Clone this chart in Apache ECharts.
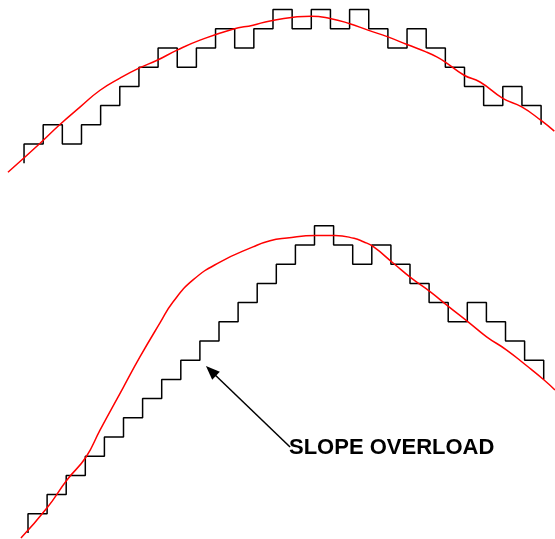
<!DOCTYPE html>
<html>
<head>
<meta charset="utf-8">
<script src="https://cdn.jsdelivr.net/npm/echarts@6/dist/echarts.min.js"></script>
<style>html,body{margin:0;padding:0;background:#fff;}#c{width:555px;height:539px;}</style>
</head>
<body>
<div id="c"></div>
<script>
// Top panel: staircase levels (start level, 27 step levels, end level)
const topSteps = [0,1,2,1,2,3,4,5,6,5,6,7,6,7,8,7,8,7,8,7,6,7,6,5,4,3,4,3,2];
// Top panel: analog signal (time in clock units, amplitude in step units)
const topSignalT = [-0.84,0.84,1.83,2.92,3.97,5.01,6.0,6.95,7.99,9.19,10.9,11.96,12.85,14.99,15.98,16.97,17.96,19.0,20.0,20.99,21.55,21.98,22.98,23.81,25.0,25.99,26.98,27.69];
const topSignalV = [-0.47,1.04,1.98,2.92,3.80,4.43,4.95,5.36,5.89,6.41,6.98,7.19,7.41,7.66,7.54,7.28,6.93,6.58,6.18,5.80,5.54,5.28,4.58,4.23,3.38,2.93,2.24,1.67];

// Bottom panel: staircase levels
const bottomSteps = [0,1,2,3,4,5,6,7,8,9,10,11,12,13,14,15,16,15,14,15,14,13,12,11,12,11,10,9,8];
// Bottom panel: analog signal
const bottomSignalT = [-0.37,0.99,2.04,3.04,3.77,4.97,5.86,6.91,7.59,8.64,10.05,11.78,12.67,13.56,15.06,16.07,17.07,17.56,18.08,19.13,20.09,21.05,22.04,23.04,24.01,25.06,26.06,27.02,27.59];
const bottomSignalV = [-0.26,1.30,2.76,3.96,5.36,7.55,9.17,10.94,12.03,13.18,14.11,14.9,15.22,15.36,15.49,15.49,15.35,15.17,14.91,14.05,13.26,12.57,11.78,11.0,10.22,9.53,8.75,7.97,7.45];

// Annotation
const annotationText = 'SLOPE OVERLOAD';
const arrowFrom = [13.72, 4.48];
const arrowTo = [9.58, 8.44];

function stairData(levels) {
  const n = levels.length - 1; // last entry is the end level
  const d = [];
  for (let i = 0; i < n; i++) d.push([i, levels[i]]);
  d.push([n - 1, levels[n]]);
  return d;
}
function signalData(t, v) { return t.map((x, i) => [x, v[i]]); }

const hiddenAxis = {
  axisLine: {show: false}, axisTick: {show: false},
  axisLabel: {show: false}, splitLine: {show: false}
};

const chart = echarts.init(document.getElementById('c'), null, {renderer: 'canvas'});
chart.setOption({
  animation: false,
  backgroundColor: '#fff',
  grid: [
    {left: 6.8, width: 547.7, top: 0, height: 182.4, outerBoundsMode: 'none', containLabel: false},
    {left: 10.81, width: 543.4, top: 216.2, height: 322.56, outerBoundsMode: 'none', containLabel: false}
  ],
  xAxis: [
    Object.assign({type: 'value', gridIndex: 0, min: -0.9, max: 27.7}, hiddenAxis),
    Object.assign({type: 'value', gridIndex: 1, min: -0.9, max: 27.55}, hiddenAxis)
  ],
  yAxis: [
    Object.assign({type: 'value', gridIndex: 0, min: -1, max: 8.5}, hiddenAxis),
    Object.assign({type: 'value', gridIndex: 1, min: -0.3, max: 16.5}, hiddenAxis)
  ],
  series: [
    {type: 'line', xAxisIndex: 0, yAxisIndex: 0, step: 'start', showSymbol: false,
     data: stairData(topSteps), lineStyle: {color: '#000', width: 1.5}},
    {type: 'line', xAxisIndex: 0, yAxisIndex: 0, smooth: 0.5, showSymbol: false,
     data: signalData(topSignalT, topSignalV), lineStyle: {color: '#ff0000', width: 1.5}},
    {type: 'line', xAxisIndex: 1, yAxisIndex: 1, step: 'start', showSymbol: false,
     data: stairData(bottomSteps), lineStyle: {color: '#000', width: 1.5}},
    {type: 'line', xAxisIndex: 1, yAxisIndex: 1, smooth: 0.5, showSymbol: false,
     data: signalData(bottomSignalT, bottomSignalV), lineStyle: {color: '#ff0000', width: 1.5},
     markLine: {
       silent: true,
       symbol: ['none', 'triangle'],
       symbolSize: [11, 14],
       label: {show: false},
       lineStyle: {color: '#000', width: 1.5, type: 'solid'},
       data: [[{coord: arrowFrom}, {coord: arrowTo}]]
     }}
  ],
  graphic: [
    {type: 'text', x: 289, y: 447.5,
     style: {text: annotationText, fill: '#000', font: 'bold 22px "Liberation Sans", Arial, sans-serif',
             align: 'left', verticalAlign: 'middle'}}
  ]
});
</script>
</body>
</html>
